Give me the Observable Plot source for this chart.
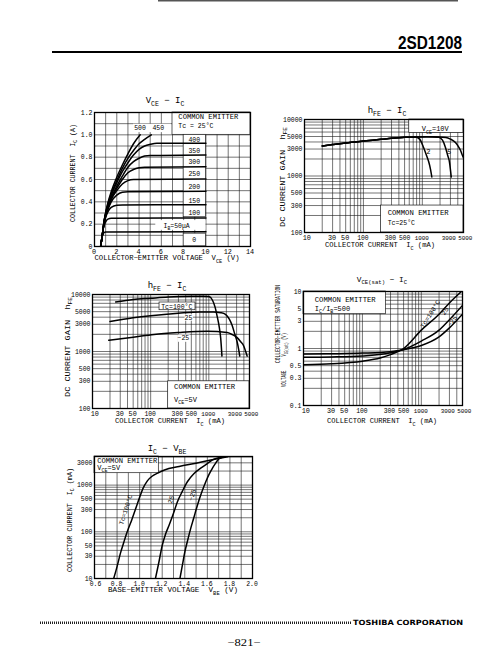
<!DOCTYPE html>
<html><head><meta charset="utf-8">
<script src="https://cdn.jsdelivr.net/npm/d3@7"></script>
<script src="https://cdn.jsdelivr.net/npm/@observablehq/plot@0.6"></script>
<style>
html,body{margin:0;padding:0;background:#fff;}
#page{position:relative;width:489px;height:662px;overflow:hidden;background:#fff;}
</style></head>
<body><div id="page"></div>
<script>
const FONT = "'Liberation Mono', 'DejaVu Sans Mono', monospace";
const GRID = "#1a1a1a";

// ---------- Chart 1: VCE - IC  (IB in µA, Tc = 25°C) ----------
const c1_ib0   = [[0.5,0],[10,0]];
const c1_ib50  = [[0.55,0],[0.7,0.09],[0.85,0.125],[1.0,0.13],[10,0.132]];
const c1_ib100 = [[0.55,0],[0.7,0.1],[0.8,0.17],[1.0,0.22],[1.2,0.245],[1.5,0.252],[10,0.255]];
const c1_ib150 = [[0.55,0],[0.7,0.1],[0.85,0.2],[1.0,0.26],[1.2,0.31],[1.5,0.35],[2,0.37],[2.5,0.372],[10,0.375]];
const c1_ib200 = [[0.55,0],[0.7,0.1],[0.85,0.2],[1.0,0.27],[1.2,0.33],[1.5,0.4],[2,0.46],[2.5,0.485],[3,0.49],[10,0.495]];
const c1_ib250 = [[0.55,0],[0.7,0.1],[0.85,0.21],[1.0,0.28],[1.2,0.34],[1.5,0.42],[2,0.5],[2.5,0.56],[3,0.59],[3.5,0.6],[10,0.605]];
const c1_ib300 = [[0.55,0],[0.7,0.1],[0.85,0.21],[1.0,0.28],[1.2,0.35],[1.5,0.43],[2,0.52],[2.5,0.6],[3,0.66],[3.5,0.69],[4,0.705],[4.5,0.71],[10,0.715]];
const c1_ib350 = [[0.55,0],[0.7,0.1],[0.85,0.21],[1.0,0.29],[1.2,0.36],[1.5,0.44],[2,0.54],[2.5,0.63],[3,0.71],[3.5,0.76],[4,0.79],[4.5,0.81],[5,0.815],[10,0.82]];
const c1_ib400 = [[0.55,0],[0.7,0.1],[0.85,0.22],[1.0,0.29],[1.2,0.37],[1.5,0.46],[2,0.57],[2.5,0.67],[3,0.75],[3.5,0.82],[4,0.87],[4.5,0.9],[5,0.915],[5.6,0.925],[10,0.925]];
const c1_ib450 = [[0.55,0],[0.7,0.1],[0.85,0.22],[1.0,0.3],[1.2,0.38],[1.5,0.47],[2,0.59],[2.5,0.7],[3,0.79],[3.5,0.86],[4,0.92],[4.5,0.96],[5.1,1.0]];
const c1_ib500 = [[0.55,0],[0.7,0.1],[0.85,0.22],[1.0,0.3],[1.2,0.39],[1.5,0.49],[2,0.62],[2.5,0.73],[3,0.83],[3.5,0.92],[4.1,1.0]];
const c1XTicks = [0,2,4,6,8,10,12,14];
const c1YTicks = [0,0.2,0.4,0.6,0.8,1.0,1.2];
const c1IbLabels = ["400","350","300","250","200","150","100"];
const c1IbLabelY = [0.953,0.854,0.753,0.647,0.533,0.405,0.294];

// ---------- Chart 2: hFE - IC (VCE = 10, 5, 2 V) ----------
const c2_vce2  = [[20,3400],[30,3600],[50,3850],[100,4150],[200,4450],[300,4650],[500,4850],[760,4900],[900,4500],[1050,3200],[1180,2300],[1280,1800],[1380,1300],[1450,960]];
const c2_vce5  = [[20,3400],[30,3600],[50,3850],[100,4150],[200,4450],[300,4650],[500,4850],[800,4920],[1200,4950],[1900,4850],[2200,4300],[2470,3200],[2700,2300],[2880,1800],[3000,1300],[3100,960]];
const c2_vce10 = [[20,3400],[30,3600],[50,3850],[100,4150],[200,4450],[300,4650],[500,4850],[800,4920],[1500,4950],[2500,4800],[3000,4500],[3650,3900],[4100,3300],[4440,2850],[4800,2300],[5000,2100]];
const icTicks  = [10,30,50,100,300,500,1000,3000,5000];
const hfeTicks = [100,300,500,1000,3000,5000,10000];

// ---------- Chart 3: hFE - IC (VCE = 5 V, Tc = 100, 25, -25 °C) ----------
const c3_tc100 = [[25,7400],[50,8200],[100,8600],[200,9000],[500,9300],[800,9350],[1000,9200],[1150,8000],[1280,6000],[1400,4000],[1500,2800],[1600,1700],[1680,830]];
const c3_tc25  = [[20,3350],[50,3900],[100,4250],[300,4700],[700,4950],[1200,4950],[1600,4800],[1930,4500],[2250,3700],[2510,2890],[2800,2000],[3070,1470],[3250,1100],[3400,830]];
const c3_tcm25 = [[19,1580],[50,1780],[114,1990],[300,2150],[940,2270],[2070,2160],[2600,1950],[3070,1750],[3500,1500],[3980,1250],[4300,1000],[4560,830]];

// ---------- Chart 4: VCE(sat) - IC (IC/IB = 500) ----------
const c4_tc100 = [[10,0.52],[30,0.54],[100,0.6],[200,0.68],[300,0.78],[500,1.0],[1000,2.1],[2000,4.0],[3000,6.3],[4800,10]];
const c4_tc25  = [[10,0.7],[30,0.71],[100,0.74],[300,0.84],[500,0.96],[1000,1.35],[2000,2.1],[3000,3.2],[5000,5.7]];
const c4_tcm25 = [[10,0.8],[30,0.81],[100,0.83],[300,0.88],[500,0.95],[1000,1.13],[2000,1.6],[3000,2.3],[5000,4.0]];
const vsatTicks = [0.1,0.3,0.5,1,3,5,10];

// ---------- Chart 5: IC - VBE (VCE = 5 V) ----------
const c5_tc100 = [[0.77,10],[0.8,18],[0.83,35],[0.86,60],[0.89,100],[0.93,180],[0.97,340],[1.0,550],[1.03,850],[1.07,1250],[1.11,1550],[1.16,1800],[1.22,2100],[1.35,2500],[1.5,2950],[1.62,3400],[1.78,4050]];
const c5_tc25  = [[1.14,10],[1.17,22],[1.2,51],[1.23,90],[1.26,137],[1.3,250],[1.334,436],[1.38,750],[1.423,1180],[1.48,1750],[1.541,2300],[1.6,2900],[1.66,3600],[1.76,4050]];
const c5_tcm25 = [[1.357,10],[1.38,20],[1.4,36.5],[1.425,65],[1.452,117],[1.48,200],[1.512,372],[1.55,700],[1.586,1180],[1.615,1700],[1.645,2300],[1.675,3000],[1.704,3700],[1.75,4050]];
const vbeTicks = [0.6,0.8,1.0,1.2,1.4,1.6,1.8,2.0];
const ic5Ticks = [10,30,50,100,300,500,1000,3000];

// ---------- helpers ----------
const page = document.getElementById("page");
const toRows = s => Object.entries(s).flatMap(([k, pts]) => pts.map(([x, y]) => ({k, x, y})));
const logGrid = (lo, hi) => { const o = []; for (let d = lo; d <= hi; d *= 10) for (let m = 1; m <= 9; m++) { const v = +(m * d).toPrecision(6); if (v <= hi * 1.0001) o.push(v); } return o; };
const linGrid = (a, b, s) => d3.range(Math.round((b - a) / s) + 1).map(i => +(a + i * s).toFixed(3));

function rich(parent, x, y, str, o = {}) {
  const size = o.size || 6.5;
  const t = d3.select(parent).append("text")
    .attr("x", x).attr("y", y)
    .attr("text-anchor", o.anchor || "middle")
    .attr("font-family", o.family || FONT)
    .attr("font-size", size)
    .attr("font-weight", o.weight || "normal")
    .attr("fill", o.fill || "#000")
    .style("white-space", "pre");
  if (o.rotate) t.attr("transform", `rotate(${o.rotate},${x},${y})`);
  if (o.len) t.attr("textLength", o.len).attr("lengthAdjust", "spacingAndGlyphs");
  const parts = []; const re = /_\{([^}]*)\}/g; let last = 0, m;
  while ((m = re.exec(str))) { if (m.index > last) parts.push([str.slice(last, m.index), false]); parts.push([m[1], true]); last = re.lastIndex; }
  if (last < str.length) parts.push([str.slice(last), false]);
  const sub = size * 0.32;
  parts.forEach(([s, isSub], i) => {
    const ts = t.append("tspan").text(s);
    if (i === 0) ts.attr("dy", size * 0.35 + (isSub ? sub : 0));
    else ts.attr("dy", isSub ? sub : -sub);
    if (isSub) ts.attr("font-size", size * 0.72);
  });
  return t;
}

function makeChart(cfg) {
  const mL = 34, mR = 12, mT = 6, mB = 14;
  const [l, r, t, b] = cfg.frame;
  const svg = Plot.plot({
    width: r - l + mL + mR, height: b - t + mT + mB,
    marginLeft: mL, marginRight: mR, marginTop: mT, marginBottom: mB,
    x: {...cfg.x, axis: null}, y: {...cfg.y, axis: null},
    style: {fontFamily: FONT, fontSize: "6.5px", background: "transparent", overflow: "visible", color: "#000"},
    marks: [
      Plot.ruleX(cfg.gridX, {stroke: GRID, strokeWidth: 0.6}),
      Plot.ruleY(cfg.gridY, {stroke: GRID, strokeWidth: 0.6}),
      Plot.rect(cfg.plainBoxes || [], {x1: "x1", x2: "x2", y1: "y1", y2: "y2", fill: "#fff"}),
      Plot.rect(cfg.borderBoxes || [], {x1: "x1", x2: "x2", y1: "y1", y2: "y2", fill: "#fff", stroke: GRID, strokeWidth: 0.7}),
      Plot.line(cfg.rows, {x: "x", y: "y", z: "k", stroke: "#000", strokeWidth: 1.5, curve: "monotone-x", clip: true}),
      Plot.frame({stroke: "#000", strokeWidth: 1.3}),
      Plot.text(cfg.yTicks, {y: d => d, frameAnchor: "left", dx: -2, textAnchor: "end", text: cfg.yFmt, fontSize: 6.5, fontFamily: FONT, fill: "#000"})
    ]
  });
  svg.style.position = "absolute";
  svg.style.left = (l - mL) + "px";
  svg.style.top = (t - mT) + "px";
  page.appendChild(svg);
  const sx = svg.scale("x"), sy = svg.scale("y");
  // x tick labels, placed with the plot's own x scale
  const yBottom = sy.apply(cfg.y.domain[0]);
  const nudge = cfg.xNudge || {};
  cfg.xTicks.forEach(v => {
    const s = cfg.xFmt(v);
    const size = s.length >= 4 ? 5.9 : s.length === 3 ? 6.4 : 6.8;
    rich(svg, sx.apply(v) + (nudge[v] || 0), yBottom + 5.5, s, {size});
  });
  (cfg.notes || []).forEach(n => rich(svg, sx.apply(n.x), sy.apply(n.y), n.text, n));
  return svg;
}
const fmtPlain = d => String(d);
const IC_DOMAIN = [10, 5000];
const HFE_DOMAIN = [100, 10000];
const IC_NUDGE = {10: 2.8, 3000: -1.2, 5000: 2.2, 300: -0.6, 500: 0.6};

// ---------- Chart 1 ----------
makeChart({
  frame: [94, 250, 112, 246],
  x: {domain: [0, 14]}, y: {domain: [0, 1.2]},
  gridX: linGrid(0, 14, 1), gridY: linGrid(0, 1.2, 0.1),
  plainBoxes: [{x1: 3.5, x2: 6.9, y1: 1.02, y2: 1.095}, {x1: 5.5, x2: 10, y1: 0.145, y2: 0.232}],
  borderBoxes: [{x1: 7, x2: 14, y1: 1.0, y2: 1.2}, {x1: 8, x2: 10, y1: 0.262, y2: 1.0}, {x1: 8, x2: 10, y1: 0.0, y2: 0.115}],
  rows: toRows({"0": c1_ib0, "50": c1_ib50, "100": c1_ib100, "150": c1_ib150, "200": c1_ib200, "250": c1_ib250, "300": c1_ib300, "350": c1_ib350, "400": c1_ib400, "450": c1_ib450, "500": c1_ib500}),
  xTicks: c1XTicks, xFmt: fmtPlain,
  yTicks: c1YTicks, yFmt: d => d === 0 ? "0" : d.toFixed(1),
  notes: [
    {x: 7.57, y: 1.157, text: "COMMON EMITTER", anchor: "start", len: 60},
    {x: 7.57, y: 1.073, text: "Tc = 25°C", anchor: "start"},
    {x: 4.13, y: 1.058, text: "500"},
    {x: 5.77, y: 1.058, text: "450"},
    ...c1IbLabels.map((s, i) => ({x: 9.0, y: c1IbLabelY[i], text: s})),
    {x: 7.42, y: 0.178, text: "I_{B}=50μA"},
    {x: 9.0, y: 0.054, text: "0"}
  ]
});

// ---------- Chart 2 ----------
makeChart({
  frame: [304, 463, 119, 232],
  x: {type: "log", domain: IC_DOMAIN}, y: {type: "log", domain: HFE_DOMAIN},
  gridX: logGrid(10, 5000), gridY: logGrid(100, 10000),
  borderBoxes: [{x1: 600, x2: 5000, y1: 5800, y2: 10000}, {x1: 200, x2: 5000, y1: 100, y2: 300}],
  rows: toRows({"2": c2_vce2, "5": c2_vce5, "10": c2_vce10}),
  xTicks: icTicks, xFmt: fmtPlain, xNudge: IC_NUDGE, yTicks: hfeTicks, yFmt: fmtPlain,
  notes: [
    {x: 1690, y: 6640, text: "V_{CE}=10V", size: 7},
    {x: 1295, y: 2650, text: "2"},
    {x: 2920, y: 2650, text: "5"},
    {x: 263, y: 221, text: "COMMON EMITTER", anchor: "start", len: 61},
    {x: 263, y: 145, text: "Tc=25°C", anchor: "start"}
  ]
});

// ---------- Chart 3 ----------
makeChart({
  frame: [92, 249, 294, 408],
  x: {type: "log", domain: IC_DOMAIN}, y: {type: "log", domain: HFE_DOMAIN},
  gridX: logGrid(10, 5000), gridY: logGrid(100, 10000),
  plainBoxes: [{x1: 390, x2: 540, y1: 3400, y2: 4400}, {x1: 300, x2: 480, y1: 1450, y2: 1950}],
  borderBoxes: [{x1: 142, x2: 590, y1: 5300, y2: 7240}, {x1: 200, x2: 5000, y1: 100, y2: 300}],
  rows: toRows({"100": c3_tc100, "25": c3_tc25, "-25": c3_tcm25}),
  xTicks: icTicks, xFmt: fmtPlain, xNudge: IC_NUDGE, yTicks: hfeTicks, yFmt: fmtPlain,
  notes: [
    {x: 287, y: 6060, text: "Tc=100°C"},
    {x: 454, y: 3890, text: "25"},
    {x: 372, y: 1690, text: "−25"},
    {x: 258, y: 233, text: "COMMON EMITTER", anchor: "start", len: 61},
    {x: 258, y: 140, text: "V_{CE}=5V", anchor: "start", size: 7}
  ]
});

// ---------- Chart 4 ----------
makeChart({
  frame: [303, 462, 291, 405],
  x: {type: "log", domain: IC_DOMAIN}, y: {type: "log", domain: [0.1, 10]},
  gridX: logGrid(10, 5000), gridY: logGrid(0.1, 10),
  borderBoxes: [{x1: 10, x2: 250, y1: 4, y2: 10}],
  rows: toRows({"100": c4_tc100, "25": c4_tc25, "-25": c4_tcm25}),
  xTicks: icTicks, xFmt: fmtPlain, xNudge: IC_NUDGE, yTicks: vsatTicks, yFmt: fmtPlain,
  notes: [
    {x: 15.8, y: 6.95, text: "COMMON EMITTER", anchor: "start", len: 61},
    {x: 15.8, y: 4.97, text: "I_{C}/I_{B}=500", anchor: "start", size: 7},
    {x: 1440, y: 3.95, text: "Tc=100°C", rotate: -58},
    {x: 2570, y: 4.46, text: "25", rotate: -55},
    {x: 3410, y: 2.98, text: "−25", rotate: -55}
  ]
});

// ---------- Chart 5 ----------
makeChart({
  frame: [94, 252, 456, 578],
  x: {domain: [0.6, 2.0]}, y: {type: "log", domain: [10, 4100]},
  gridX: linGrid(0.6, 2.0, 0.1), gridY: logGrid(10, 4100),
  borderBoxes: [{x1: 0.6, x2: 1.17, y1: 1800, y2: 4100}],
  rows: toRows({"100": c5_tc100, "25": c5_tc25, "-25": c5_tcm25}),
  xTicks: vbeTicks, xFmt: d => d.toFixed(1), xNudge: {0.6: 1.5}, yTicks: ic5Ticks, yFmt: fmtPlain,
  notes: [
    {x: 0.629, y: 3310, text: "COMMON EMITTER", anchor: "start", len: 60},
    {x: 0.629, y: 2300, text: "V_{CE}=5V", anchor: "start", size: 7},
    {x: 0.88, y: 290, text: "Tc=100°C", rotate: -72},
    {x: 1.28, y: 480, text: "25", rotate: -72},
    {x: 1.47, y: 600, text: "−25", rotate: -72}
  ]
});

// ---------- page overlay: header, titles, axis labels, footer ----------
const ov = d3.select(page).append("svg")
  .attr("width", 489).attr("height", 662)
  .style("position", "absolute").style("left", "0px").style("top", "0px");
ov.append("rect").attr("x", 158).attr("y", 0).attr("width", 300).attr("height", 1.5).attr("fill", "#555");
rich(ov.node(), 462, 43, "2SD1208", {anchor: "end", family: "'Liberation Sans Narrow','Liberation Sans',sans-serif", weight: "bold", size: 17.5, len: 64});
ov.append("rect").attr("x", 52).attr("y", 51).attr("width", 410).attr("height", 2).attr("fill", "#000");

const titles = [
  [165, 100, "V_{CE} − I_{C}", 9],
  [387, 110, "h_{FE} − I_{C}", 9],
  [167, 285, "h_{FE} − I_{C}", 9],
  [382, 279, "V_{CE(sat)} − I_{C}", 7.8],
  [167, 448, "I_{C} − V_{BE}", 9]
];
titles.forEach(([x, y, s, size]) => rich(ov.node(), x, y, s, {size}));

const xLabels = [
  [167, 258, "COLLECTOR−EMITTER VOLTAGE  V_{CE} (V)", 145],
  [380, 245, "COLLECTOR CURRENT  I_{C} (mA)", 110],
  [170, 421, "COLLECTOR CURRENT  I_{C} (mA)", 110],
  [382, 421, "COLLECTOR CURRENT  I_{C} (mA)", 110],
  [173, 590, "BASE−EMITTER VOLTAGE  V_{BE} (V)", 130]
];
xLabels.forEach(([x, y, s, len]) => rich(ov.node(), x, y, s, {size: 6.8, len}));

const yLabels = [
  [73, 173, "COLLECTOR CURRENT  I_{C} (A)", 98],
  [283, 177, "DC CURRENT GAIN  h_{FE}", 100],
  [68, 347, "DC CURRENT GAIN  h_{FE}", 100],
  [278, 324, "COLLECTOR−EMITTER SATURATION", 78],
  [284, 360, "VOLTAGE      V_{CE(sat)} (V)", 54],
  [70, 520, "COLLECTOR CURRENT  I_{C} (mA)", 104]
];
yLabels.forEach(([x, y, s, len]) => rich(ov.node(), x, y, s, {size: 6.5, len, rotate: -90}));

ov.append("line").attr("x1", 40).attr("x2", 352).attr("y1", 622.7).attr("y2", 622.7)
  .attr("stroke", "#222").attr("stroke-width", 2.6).attr("stroke-dasharray", "1,1");
rich(ov.node(), 353, 622.7, "TOSHIBA CORPORATION", {anchor: "start", family: "'DejaVu Sans',sans-serif", weight: "bold", size: 7.2, len: 110});
rich(ov.node(), 244, 643, "−821−", {family: "'Liberation Serif',serif", size: 9.5, len: 33});
</script></body></html>
